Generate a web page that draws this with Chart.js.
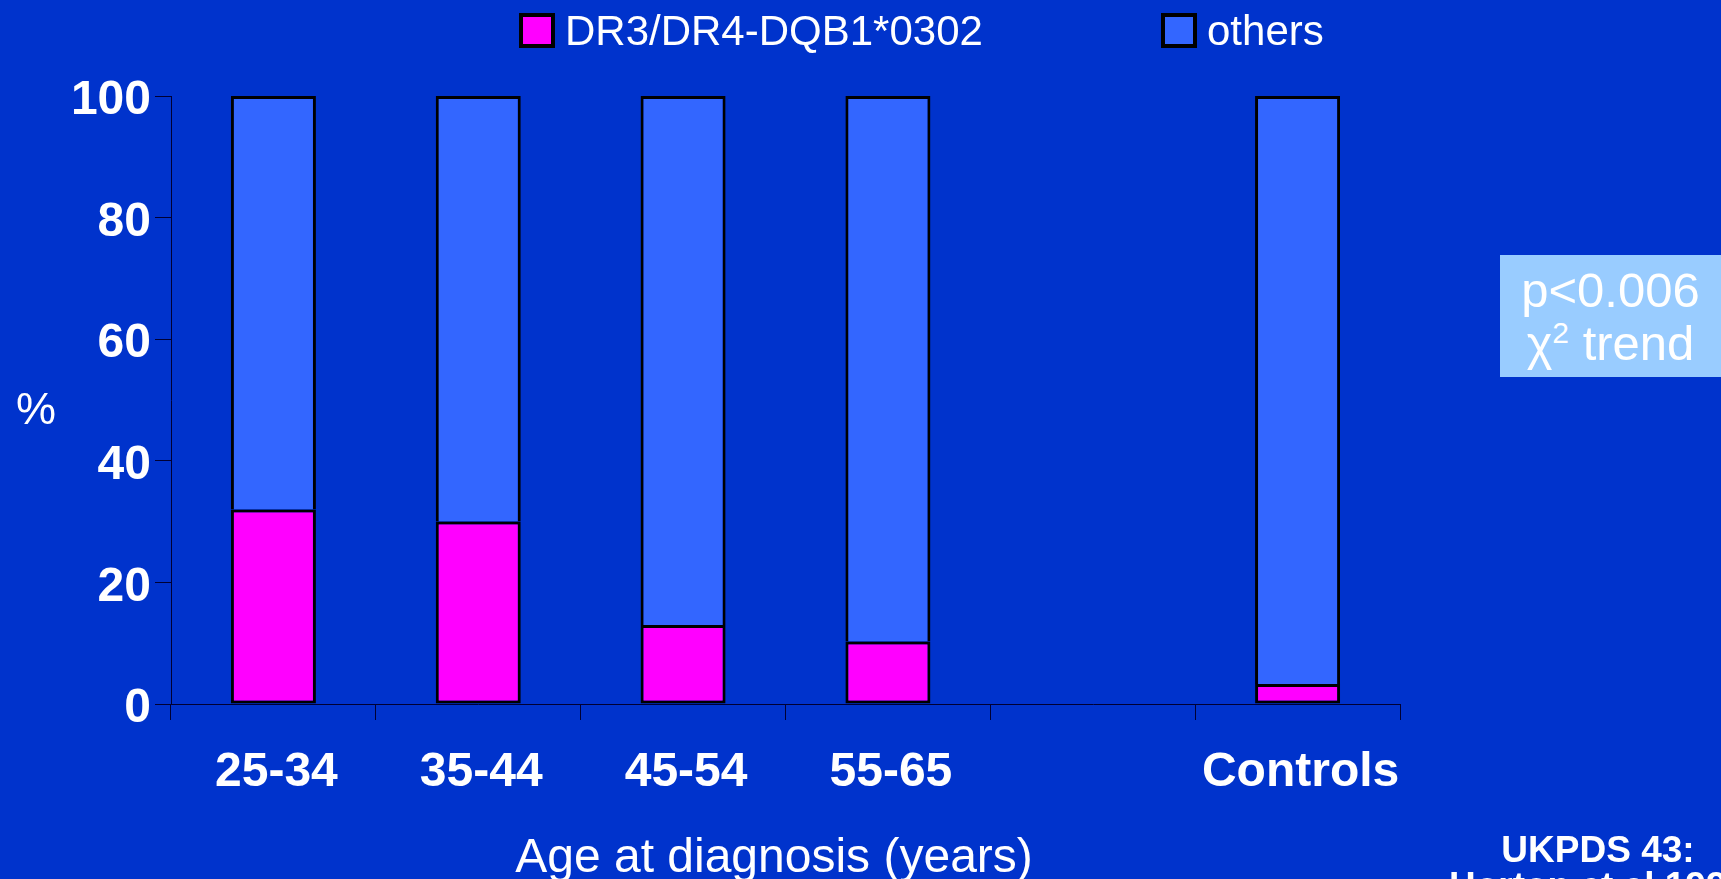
<!DOCTYPE html>
<html>
<head>
<meta charset="utf-8">
<script src="https://cdn.jsdelivr.net/npm/chart.js@4.4.1/dist/chart.umd.min.js"></script>
<style>
  html, body { margin: 0; padding: 0; background: #0033cc; overflow: hidden; }
  #wrap { position: relative; width: 1721px; height: 879px; overflow: hidden;
          font-family: "Liberation Sans", Arial, sans-serif; color: #fff; }
  #chart { position: absolute; left: 0; top: 0; }
  .leg { position: absolute; top: 13px; height: 35px; display: flex; align-items: center;
         font-size: 42px; white-space: nowrap; }
  .leg i { display: inline-block; box-sizing: border-box; width: 36px; height: 35px;
           border: 4px solid #000; margin-right: 10px; }
  #pct { position: absolute; left: 16px; top: 386px; font-size: 45px; line-height: 1; }
  #xtitle { position: absolute; left: 474px; top: 832px; width: 600px; text-align: center;
            font-size: 48px; line-height: 1; white-space: nowrap; }
  #pbox { position: absolute; left: 1500px; top: 255px; width: 221px; height: 122px;
          box-sizing: border-box; padding-top: 9px; background: #99ccff;
          font-size: 49px; line-height: 53px; text-align: center; white-space: nowrap; }
  #pbox sup { font-size: 30px; line-height: 0; }
  #cite { position: absolute; left: 1398px; top: 832px; width: 400px; text-align: center;
          font-size: 37px; font-weight: bold; line-height: 36px; white-space: nowrap; }
</style>
</head>
<body>
<div id="wrap">
  <canvas id="chart" width="1721" height="879"></canvas>
  <div id="legend"></div>
  <div id="pct">%</div>
  <div id="xtitle">Age at diagnosis (years)</div>
  <div id="pbox">p&lt;0.006<br>&chi;<sup>2</sup> trend</div>
  <div id="cite">UKPDS 43:<br>Horton et al 1999</div>
</div>
<script>
// Age groups at diagnosis (blank slot separates the controls)
const categories = ['25-34', '35-44', '45-54', '55-65', '', 'Controls'];
// Percentage carrying DR3/DR4-DQB1*0302
const dr3dr4 = [32, 30, 13, 10.3, null, 3.3];
// Percentage with other genotypes
const others = [68, 70, 87, 89.7, null, 96.7];
// Y axis tick values (%)
const yTicks = [0, 20, 40, 60, 80, 100];

const FONT = '"Liberation Sans", Arial, sans-serif';
const AXIS = '#000033';
Chart.defaults.font.family = FONT;
Chart.defaults.color = '#ffffff';

const barCommon = {
  borderColor: '#000000',
  borderWidth: 3,
  barPercentage: 0.415,
  categoryPercentage: 1
};

const chart = new Chart(document.getElementById('chart'), {
  type: 'bar',
  data: {
    labels: categories,
    datasets: [
      Object.assign({ label: 'DR3/DR4-DQB1*0302', data: dr3dr4,
        backgroundColor: '#ff00ff', borderSkipped: false }, barCommon),
      Object.assign({ label: 'others', data: others,
        backgroundColor: '#3366ff', borderSkipped: 'start' }, barCommon)
    ]
  },
  options: {
    responsive: false,
    animation: false,
    layout: { padding: { left: 0, right: 321, top: 96, bottom: 0 } },
    plugins: { legend: { display: false }, tooltip: { enabled: false } },
    scales: {
      x: {
        stacked: true,
        grid: { drawOnChartArea: false, drawTicks: true, tickLength: 16, color: AXIS, offset: true },
        border: { color: AXIS, width: 1 },
        ticks: { color: '#fff', padding: 24, labelOffset: 3, font: { size: 48, weight: 'bold' } },
        afterFit: s => { s.height = 175; }
      },
      y: {
        stacked: true,
        min: 0,
        max: 100,
        afterBuildTicks: s => { s.ticks = yTicks.map(v => ({ value: v })); },
        grid: { drawOnChartArea: false, drawTicks: true, tickLength: 16, color: AXIS },
        border: { color: AXIS, width: 1 },
        ticks: { color: '#fff', padding: 4, labelOffset: 5, font: { size: 48, weight: 'bold' } },
        afterFit: s => { s.width = 171; }
      }
    }
  }
});

// HTML legend built from the datasets
const legendLeft = [519, 1161];
const legendEl = document.getElementById('legend');
chart.data.datasets.forEach((ds, i) => {
  const item = document.createElement('div');
  item.className = 'leg';
  item.style.left = legendLeft[i] + 'px';
  const box = document.createElement('i');
  box.style.background = ds.backgroundColor;
  item.appendChild(box);
  item.appendChild(document.createTextNode(ds.label));
  legendEl.appendChild(item);
});
</script>
</body>
</html>
